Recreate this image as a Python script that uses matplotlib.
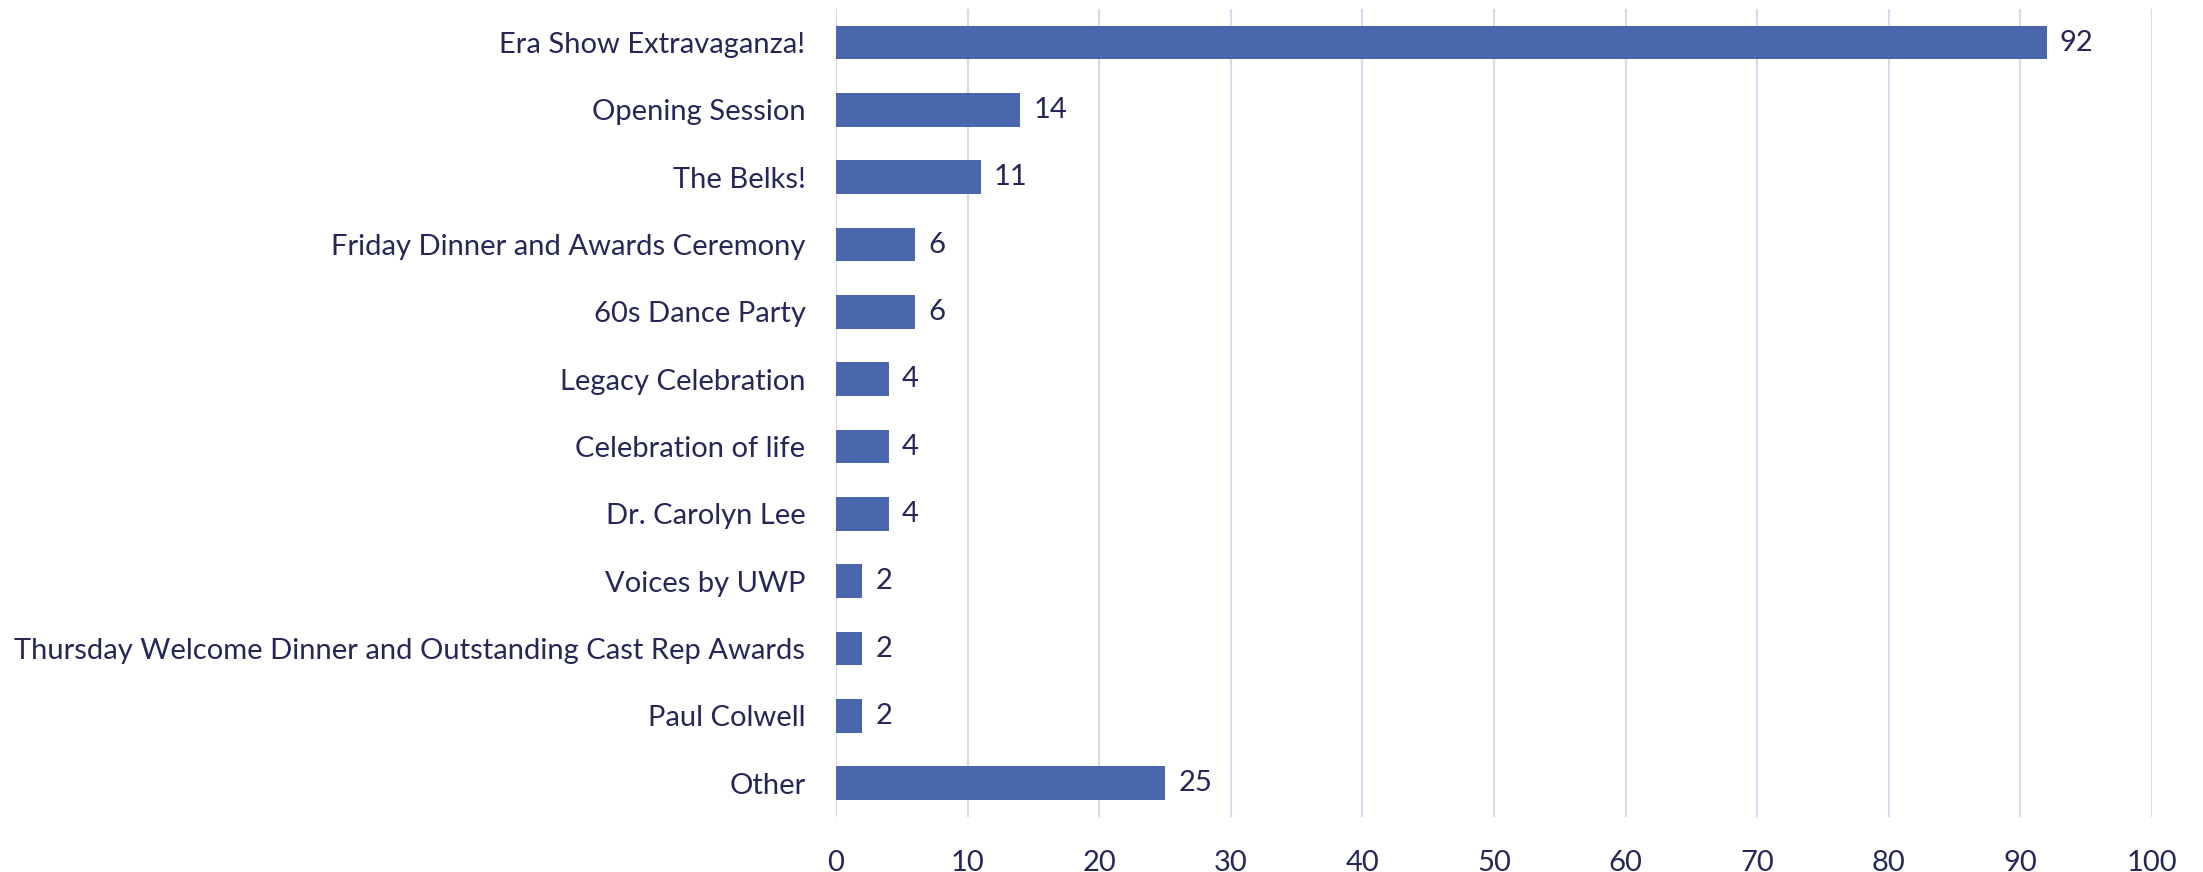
import matplotlib
matplotlib.use("Agg")
import matplotlib.pyplot as plt

# session names, top to bottom
sessions = [
    "Era Show Extravaganza!",
    "Opening Session",
    "The Belks!",
    "Friday Dinner and Awards Ceremony",
    "60s Dance Party",
    "Legacy Celebration",
    "Celebration of life",
    "Dr. Carolyn Lee",
    "Voices by UWP",
    "Thursday Welcome Dinner and Outstanding Cast Rep Awards",
    "Paul Colwell",
    "Other",
]
counts = [92, 14, 11, 6, 6, 4, 4, 4, 2, 2, 2, 25]
x_ticks = list(range(0, 101, 10))

bar_color = "#4A67AE"
text_color = "#262659"
grid_color = "#D9D9EE"

plt.rcParams["font.family"] = ["Lato", "DejaVu Sans"]

fig = plt.figure(figsize=(22.03, 8.72), dpi=100)
ax = fig.add_axes([0.3795, 0.0631, 0.5973, 0.9266])

y = list(range(len(sessions)))
ax.barh(y, counts, height=0.5, color=bar_color, zorder=3)

for yi, v in zip(y, counts):
    ax.text(v + 1.0, yi, str(v), va="center", ha="left",
            fontsize=21, color=text_color)

ax.set_yticks(y)
ax.set_yticklabels(sessions, fontsize=21, color=text_color)
ax.set_ylim(len(sessions) - 0.5, -0.5)

ax.set_xlim(0, 100)
ax.set_xticks(x_ticks)
ax.set_xticklabels([str(t) for t in x_ticks], fontsize=21, color=text_color)
ax.tick_params(axis="x", length=0, pad=24)
ax.tick_params(axis="y", length=0, pad=22)

ax.grid(axis="x", color=grid_color, linewidth=1.5, zorder=0)
for s in ax.spines.values():
    s.set_visible(False)

plt.savefig("out.png", dpi=100)
